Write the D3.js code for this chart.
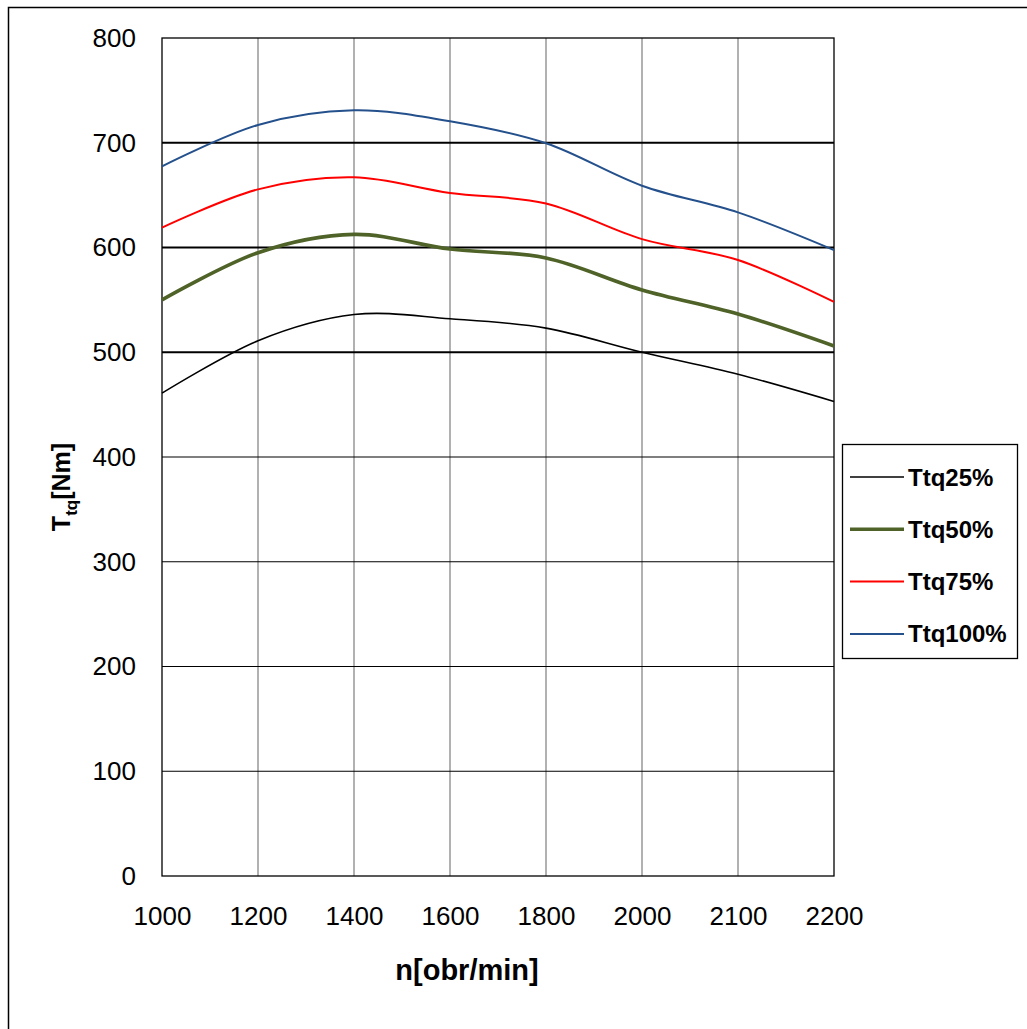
<!DOCTYPE html>
<html><head><meta charset="utf-8">
<script src="https://cdn.jsdelivr.net/npm/d3@7"></script>
<style>body{margin:0;background:#fff}svg{display:block}text{font-family:"Liberation Sans",Arial,sans-serif}</style>
</head><body>
<svg id="c" width="1027" height="1029"></svg>
<script>
const categories = ["1000","1200","1400","1600","1800","2000","2100","2200"];
const ttq25  = [461, 511, 536, 532, 523, 500, 479, 453];
const ttq50  = [550, 595, 612.5, 598.5, 590, 559.5, 536.5, 506];
const ttq75  = [619, 655.5, 667, 652, 642, 608, 588, 548];
const ttq100 = [677.5, 717, 731, 720.5, 699.5, 659, 633.5, 597.5];
const seriesNames = ["Ttq25%","Ttq50%","Ttq75%","Ttq100%"];
const seriesColors = ["#000000","#4F6228","#FF0000","#24508C"];
const seriesWidths = [1.6, 3.6, 2, 2];
const yTicks = [0,100,200,300,400,500,600,700,800];

const svg = d3.select("#c");
const L=162, R=834, T=38, B=876;
svg.append("rect").attr("x",8.5).attr("y",7.5).attr("width",1040).attr("height",1040)
  .attr("fill","none").attr("stroke","#000").attr("stroke-width",1.5);

const x = d3.scalePoint().domain(categories).range([L,R]);
const y = d3.scaleLinear().domain([0,800]).range([B,T]);

// vertical grid
svg.append("g").selectAll("line").data(categories.slice(1,-1)).join("line")
  .attr("x1",d=>x(d)).attr("x2",d=>x(d)).attr("y1",T).attr("y2",B)
  .attr("stroke","#878787").attr("stroke-width",1.3);
// horizontal grid
svg.append("g").selectAll("line").data(yTicks.slice(1,-1)).join("line")
  .attr("x1",L).attr("x2",R).attr("y1",d=>y(d)).attr("y2",d=>y(d))
  .attr("stroke","#000").attr("stroke-width",d=>d>=500?1.8:1.1);
// plot border
svg.append("rect").attr("x",L).attr("y",T).attr("width",R-L).attr("height",B-T)
  .attr("fill","none").attr("stroke","#000").attr("stroke-width",1.3);

// y tick labels
const yAxis = d3.axisLeft(y).tickValues(yTicks).tickSize(0).tickPadding(26);
const gy = svg.append("g").attr("transform",`translate(${L},0)`).call(yAxis);
gy.select(".domain").remove();
gy.selectAll("text").attr("font-size",26).attr("font-family","Liberation Sans, Arial").attr("fill","#000");

// x tick labels
const xAxis = d3.axisBottom(x).tickSize(0).tickPadding(31);
const gx = svg.append("g").attr("transform",`translate(0,${B})`).call(xAxis);
gx.select(".domain").remove();
gx.selectAll("text").attr("font-size",26).attr("font-family","Liberation Sans, Arial").attr("fill","#000");

// axis titles
svg.append("text").attr("x",467).attr("y",980).attr("text-anchor","middle")
  .attr("font-size",29).attr("font-weight","bold").text("n[obr/min]");
const yt = svg.append("text").attr("transform","translate(70,487) rotate(-90)")
  .attr("text-anchor","middle").attr("font-size",25).attr("font-weight","bold");
yt.append("tspan").text("T");
yt.append("tspan").attr("font-size",17).attr("dy",7).text("tq");
yt.append("tspan").attr("dy",-7).text("[Nm]");

// lines
const allSeries = [ttq25, ttq50, ttq75, ttq100];
const line = d3.line().x((d,i)=>x(categories[i])).y(d=>y(d)).curve(d3.curveCatmullRom.alpha(0));
svg.append("g").selectAll("path").data(allSeries).join("path")
  .attr("d",d=>line(d)).attr("fill","none")
  .attr("stroke",(d,i)=>seriesColors[i]).attr("stroke-width",(d,i)=>seriesWidths[i]);

// legend
const lg = svg.append("g");
lg.append("rect").attr("x",842.5).attr("y",444.5).attr("width",175).attr("height",214)
  .attr("fill","#fff").attr("stroke","#000").attr("stroke-width",1.3);
const rows = lg.selectAll("g").data(seriesNames).join("g")
  .attr("transform",(d,i)=>`translate(0,${477+i*52.3})`);
rows.append("line").attr("x1",850).attr("x2",904).attr("y1",0).attr("y2",0)
  .attr("stroke",(d,i)=>seriesColors[i]).attr("stroke-width",(d,i)=>seriesWidths[i]);
rows.append("text").attr("x",908).attr("y",8.5).attr("font-size",24).attr("font-weight","bold").text(d=>d);
</script>
</body></html>
